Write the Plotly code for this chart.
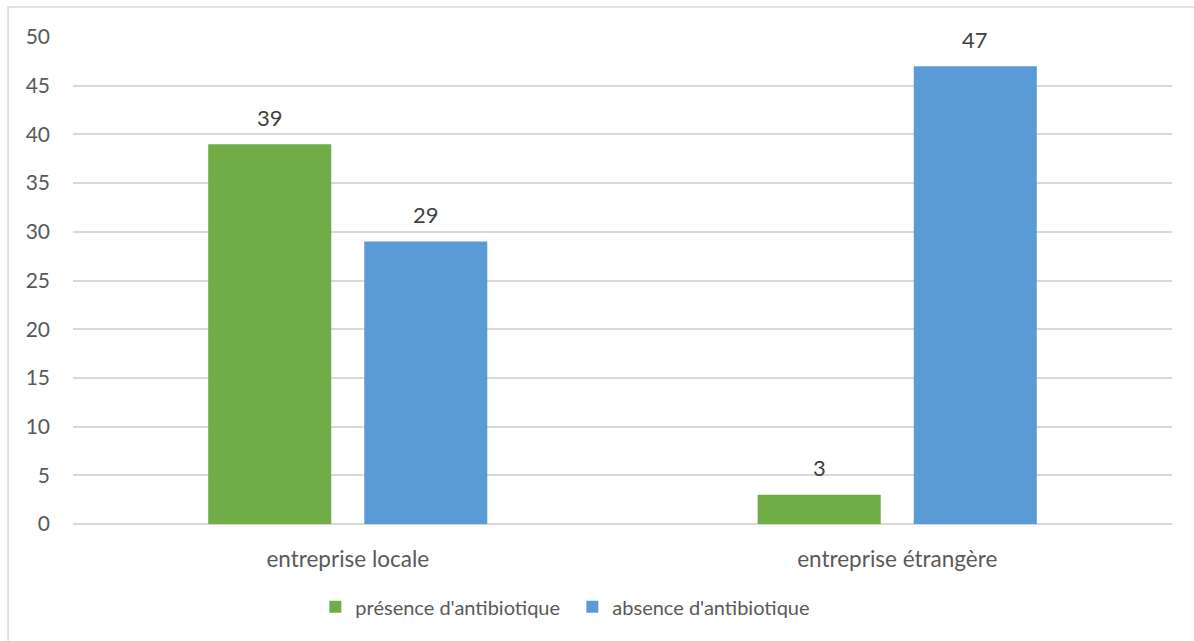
import plotly.graph_objects as go

categories = ["entreprise locale", "entreprise étrangère"]
presence = [39, 3]
absence = [29, 47]
series_names = ["présence d'antibiotique", "absence d'antibiotique"]
y_ticks = [0, 5, 10, 15, 20, 25, 30, 35, 40, 45, 50]

GREEN = "#70ad47"
BLUE = "#5b9bd5"
FONT = "Lato, Open Sans, sans-serif"

fig = go.Figure()
fig.add_trace(go.Bar(x=categories, y=presence, name=series_names[0],
                     marker=dict(color=GREEN, line=dict(width=0))))
fig.add_trace(go.Bar(x=categories, y=absence, name=series_names[1],
                     marker=dict(color=BLUE, line=dict(width=0))))

# value labels above each bar
annotations = []
for vals, off in ((presence, -0.5), (absence, 0.5)):
    for i, v in enumerate(vals):
        annotations.append(dict(
            x=i + off * 0.284, y=v, xref="x", yref="y", text=str(v),
            showarrow=False, yanchor="middle", yshift=27,
            font=dict(family=FONT, size=22, color="#404040")))

fig.update_layout(
    width=1194, height=641,
    margin=dict(l=73, r=22, t=37, b=117),
    paper_bgcolor="white", plot_bgcolor="white",
    barmode="group", bargap=0.432, bargroupgap=0.2115,
    font=dict(family=FONT, size=20, color="#595959"),
    showlegend=True,
    legend=dict(orientation="h", x=0.2205, xanchor="left", y=-0.17, yanchor="middle",
                font=dict(family=FONT, size=20, color="#595959"),
                itemwidth=30, entrywidth=212, traceorder="normal"),
    annotations=annotations,
    shapes=[dict(type="rect", xref="paper", yref="paper",
                 x0=-0.0591, x1=1.03, y0=-0.3, y1=1.0616,
                 line=dict(color="#d9d9d9", width=1.5))],
)
fig.update_xaxes(showgrid=False, showline=False, ticks="",
                 ticklabelstandoff=19,
                 tickfont=dict(family=FONT, size=22.5, color="#595959"))
fig.update_yaxes(range=[0, 50], tickvals=y_ticks, showgrid=True,
                 gridcolor="#d9d9d9", gridwidth=1.5, zeroline=True,
                 zerolinecolor="#d9d9d9", zerolinewidth=1.5, showline=False,
                 ticks="", ticklabelstandoff=22,
                 tickfont=dict(family=FONT, size=21, color="#595959"))

fig.write_html("out.html")
